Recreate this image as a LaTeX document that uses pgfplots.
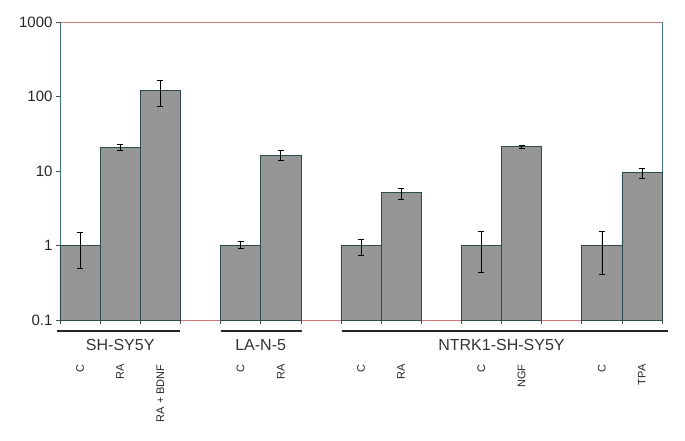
\documentclass[border=0pt]{standalone}
\usepackage{pgfplots}
\pgfplotsset{compat=1.18}
\usepackage{fontspec}
\setmainfont{Liberation Sans}
\definecolor{barfill}{RGB}{150,150,150}
\definecolor{baredge}{RGB}{45,75,75}
\definecolor{tealline}{RGB}{60,120,120}
\definecolor{redline}{RGB}{200,120,120}

\begin{document}
\begin{tikzpicture}
\useasboundingbox (-60pt,-120pt) rectangle (625pt,320pt);
\begin{axis}[
  at={(0,0)}, anchor=south west,
  scale only axis, width=602pt, height=298pt,
  ymode=log, log origin=infty,
  ymin=0.1, ymax=1000, xmin=0, xmax=15,
  separate axis lines,
  x axis line style={redline, line width=0.6pt},
  y axis line style={tealline, line width=0.8pt},
  ytick={0.1,1,10,100,1000}, yticklabels={0.1,1,10,100,1000},
  yminorticks=false,
  xtick={0,...,15}, xticklabels={},
  tick pos=left, tick align=outside, major tick length=4pt,
  tick style={black!70, line width=0.6pt},
  /pgf/number format/assume math mode=true,
  y tick label style={font=\fontsize{15}{18}\selectfont, text=black!85},
  extra x ticks={0.5,1.5,2.5,4.5,5.5,7.5,8.5,10.5,11.5,13.5,14.5},
  extra x tick labels={C,RA,RA + BDNF,C,RA,C,RA,C,NGF,C,TPA},
  extra x tick style={major tick length=0pt,
    xticklabel style={yshift=-41pt, rotate=90, anchor=east,
      font=\fontsize{11}{13}\selectfont, text=black!85}},
  clip=false,
  ybar, bar width=1,
]
\addplot[fill=barfill, draw=baredge, line width=0.6pt,
  error bars/.cd, y dir=both, y explicit,
  error bar style={black, line width=0.6pt},
  error mark options={rotate=90, black, mark size=3pt, line width=0.6pt}]
coordinates {
(0.5,1)     += (0,0.5)  -= (0,0.5)
(1.5,20.7)  += (0,2.3)  -= (0,1.7)
(2.5,120)   += (0,44)   -= (0,47)
(4.5,1)     += (0,0.14) -= (0,0.09)
(5.5,16.1)  += (0,2.9)  -= (0,2.1)
(7.5,1)     += (0,0.23) -= (0,0.27)
(8.5,5.1)   += (0,0.8)  -= (0,0.9)
(10.5,1)    += (0,0.54) -= (0,0.56)
(11.5,21.3) += (0,0.9)  -= (0,1.0)
(13.5,1)    += (0,0.57) -= (0,0.59)
(14.5,9.5)  += (0,1.4)  -= (0,1.6)
};

% group brackets under the axis
\draw[line width=2.2pt, black!85] ([yshift=-11pt]axis cs:-0.07,0.1) -- ([yshift=-11pt]axis cs:3,0.1);
\draw[line width=2.2pt, black!85] ([yshift=-11pt]axis cs:4,0.1) -- ([yshift=-11pt]axis cs:6.03,0.1);
\draw[line width=2.2pt, black!85] ([yshift=-11pt]axis cs:7.03,0.1) -- ([yshift=-11pt]axis cs:15.15,0.1);
\node[font=\fontsize{16}{19}\selectfont, text=black!80] at ([yshift=-25pt]axis cs:1.5,0.1) {SH-SY5Y};
\node[font=\fontsize{16}{19}\selectfont, text=black!80] at ([yshift=-25pt]axis cs:5,0.1) {LA-N-5};
\node[font=\fontsize{16}{19}\selectfont, text=black!80] at ([yshift=-25pt]axis cs:11,0.1) {NTRK1-SH-SY5Y};
\end{axis}
\end{tikzpicture}
\end{document}
